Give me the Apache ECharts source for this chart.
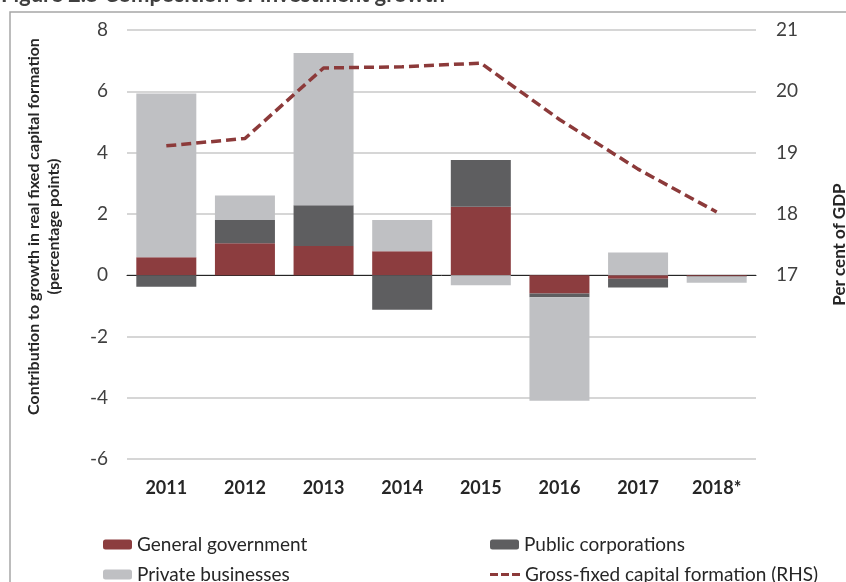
<!DOCTYPE html>
<html>
<head>
<meta charset="utf-8">
<script src="https://cdn.jsdelivr.net/npm/echarts@6/dist/echarts.min.js"></script>
<style>
  html, body { margin: 0; padding: 0; background: #fff; }
  #chart { width: 846px; height: 582px; }
</style>
</head>
<body>
<div id="chart"></div>
<script>
var myChart = echarts.init(document.getElementById('chart'));

// data
var years = ['2011', '2012', '2013', '2014', '2015', '2016', '2017', '2018*'];
var generalGov = [0.58, 1.04, 0.95, 0.78, 2.23, -0.6, -0.12, -0.04];
var publicCorp = [-0.38, 0.76, 1.33, -1.13, 1.53, -0.12, -0.28, -0.01];
var privateBiz = [5.35, 0.8, 4.97, 1.02, -0.33, -3.38, 0.74, -0.2];
var gfcf = [19.11, 19.23, 20.38, 20.4, 20.46, 19.54, 18.73, 18.03];

var font = 'Lato';
var legendText = { fontFamily: font, fontSize: 19, color: '#262626' };

function legendAt(name, left, top) {
    return {
        data: [name],
        left: left,
        top: top,
        itemWidth: 29,
        itemHeight: 10,
        itemGap: 0,
        textStyle: legendText,
        selectedMode: false
    };
}

var dashIcon = 'path://M0,0h8v3h-8zM11,0h8v3h-8zM22,0h8v3h-8z';

option = {
    backgroundColor: '#fff',
    animation: false,
    title: {
        text: 'Figure 2.5 Composition of investment growth',
        left: -4,
        top: -21,
        textStyle: { fontFamily: font, fontSize: 22, fontWeight: 'bold', color: '#404040' }
    },
    graphic: [{
        type: 'polyline',
        shape: { points: [[10, 582], [10, 12], [846, 12]] },
        style: { stroke: '#a6a6a6', lineWidth: 1.5, fill: null }
    }],
    legend: [
        legendAt('General government', 98, 530),
        legendAt('Public corporations', 485, 530),
        legendAt('Private businesses', 98, 560),
        {
            data: [{ name: 'Gross-fixed capital formation (RHS)', icon: dashIcon }],
            left: 485,
            top: 560,
            itemWidth: 30,
            itemHeight: 3,
            textStyle: legendText,
            selectedMode: false
        }
    ],
    grid: { left: 127, right: 90, top: 30, bottom: 123, outerBoundsMode: 'none' },
    xAxis: {
        type: 'category',
        data: years,
        axisLine: { onZero: true, lineStyle: { color: '#262626', width: 1 } },
        axisTick: { show: false },
        axisLabel: {
            fontFamily: font, fontSize: 18, fontWeight: 'bold', color: '#262626',
            margin: 20
        }
    },
    yAxis: [{
        type: 'value',
        min: -6,
        max: 8,
        interval: 2,
        name: 'Contribution to growth in real fixed capital formation\n(percentage points)',
        nameLocation: 'middle',
        nameGap: 63,
        nameTextStyle: {
            fontFamily: font, fontSize: 16, fontWeight: 'bold', color: '#262626',
            lineHeight: 20, padding: [0, 0, 0, 36]
        },
        axisLine: { show: false },
        axisTick: { show: false },
        axisLabel: { fontFamily: font, fontSize: 19, color: '#404040', margin: 19 },
        splitLine: { lineStyle: { color: '#c8c8c8', width: 1.5 } }
    }, {
        type: 'value',
        min: 14,
        max: 21,
        interval: 1,
        name: 'Per cent of GDP',
        nameLocation: 'middle',
        nameGap: 75,
        nameTextStyle: { fontFamily: font, fontSize: 17, fontWeight: 'bold', color: '#262626' },
        axisLine: { show: false },
        axisTick: { show: false },
        axisLabel: {
            fontFamily: font, fontSize: 19, color: '#404040', margin: 20,
            formatter: function (v) { return v >= 17 ? String(v) : ''; }
        },
        splitLine: { show: false }
    }],
    series: [{
        name: 'General government',
        type: 'bar',
        stack: 'inv',
        barWidth: 60,
        data: generalGov,
        itemStyle: { color: '#8c3d3f' }
    }, {
        name: 'Public corporations',
        type: 'bar',
        stack: 'inv',
        data: publicCorp,
        itemStyle: { color: '#5e5e60' }
    }, {
        name: 'Private businesses',
        type: 'bar',
        stack: 'inv',
        data: privateBiz,
        itemStyle: { color: '#bfc0c3' }
    }, {
        name: 'Gross-fixed capital formation (RHS)',
        type: 'line',
        yAxisIndex: 1,
        data: gfcf,
        symbol: 'none',
        z: 5,
        lineStyle: { color: '#8c3a3a', width: 3.5, type: [10, 5] },
        itemStyle: { color: '#8c3a3a' }
    }]
};

myChart.setOption(option);
</script>
</body>
</html>
